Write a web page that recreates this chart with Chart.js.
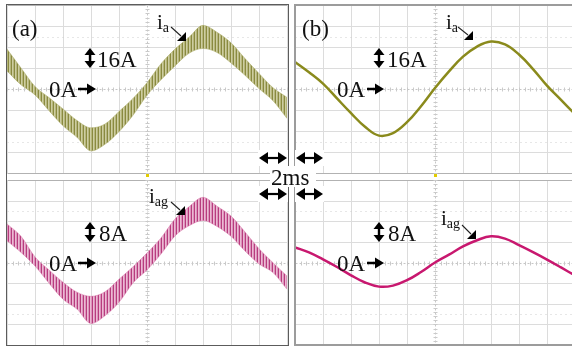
<!DOCTYPE html>
<html>
<head>
<meta charset="utf-8">
<script src="https://cdn.jsdelivr.net/npm/chart.js@4.4.1/dist/chart.umd.min.js"></script>
<style>
  html, body { margin: 0; padding: 0; background: #fff; }
  #scope { position: relative; width: 572px; height: 348px; overflow: hidden; background: #fff; }
  #scope canvas { position: absolute; }
  .frame { position: absolute; box-sizing: border-box; pointer-events: none; }
  #marks { position: absolute; left: 0; top: 0; }
  #marks text { font-family: "Liberation Serif", "Times New Roman", serif; fill: #111; }
</style>
</head>
<body>
<div id="scope">
  <canvas id="aTop" width="284" height="172" style="left:5px;top:3px"></canvas>
  <canvas id="aBot" width="284" height="169" style="left:5px;top:178px"></canvas>
  <canvas id="bTop" width="284" height="172" style="left:293px;top:3px"></canvas>
  <canvas id="bBot" width="284" height="169" style="left:293px;top:178px"></canvas>
  <div class="frame" style="left:6px;top:4px;width:283px;height:342px;border:1.5px solid #5c5c5c;"></div>
  <div class="frame" style="left:294px;top:4px;width:300px;height:342px;border:2px solid #9c9c9c;"></div>
  <svg id="marks" width="572" height="348" xmlns="http://www.w3.org/2000/svg">
    <g id="arrows"></g>
    <!-- panel (a) -->
    <text x="12" y="36" font-size="23">(a)</text>
    <text x="157" y="29" font-size="21">i<tspan font-size="14" dy="3">a</tspan></text>
    <text x="97" y="67" font-size="23">16A</text>
    <text x="49" y="97" font-size="23">0A</text>
    <text x="149" y="203" font-size="21">i<tspan font-size="14" dy="3">ag</tspan></text>
    <text x="99" y="241" font-size="23">8A</text>
    <text x="49" y="271" font-size="23">0A</text>
    <!-- panel (b) -->
    <text x="302" y="36" font-size="23">(b)</text>
    <text x="446" y="29" font-size="21">i<tspan font-size="14" dy="3">a</tspan></text>
    <text x="387" y="67" font-size="23">16A</text>
    <text x="337" y="97" font-size="23">0A</text>
    <text x="441" y="225" font-size="21">i<tspan font-size="14" dy="3">ag</tspan></text>
    <text x="388" y="241" font-size="23">8A</text>
    <text x="337" y="271" font-size="23">0A</text>
    <!-- time base -->
    <rect x="270" y="166" width="46" height="21" fill="#fff"></rect>
    <text x="271" y="185" font-size="23">2ms</text>
  </svg>
</div>
<script>
// Graticule divisions
const xDivisions = [0, 1, 2, 3, 4, 5, 6, 7, 8, 9, 10];
const yDivisions = [-4, -3, -2, -1, 0, 1, 2, 3, 4];
// Sample positions along the time axis (divisions, 2 ms/div)
const samplePos = [0, 0.5, 1, 1.5, 2, 2.5, 3, 3.5, 4, 4.5, 5, 5.5, 6, 6.5, 7, 7.5, 8, 8.5, 9, 9.5, 10];

// (a) phase current i_a, 16 A/div: mean trace and switching-ripple half band
const aIa       = [1.38, 0.6, -0.08, -0.72, -1.35, -1.9, -2.4, -2.15, -1.55, -0.85, 0.0, 0.82, 1.5, 2.08, 2.48, 2.22, 1.72, 1.05, 0.38, -0.25, -0.9];
const aIaRipple = [0.52, 0.4, 0.2, 0.31, 0.4, 0.4, 0.55, 0.48, 0.48, 0.4, 0.3, 0.38, 0.4, 0.38, 0.55, 0.48, 0.48, 0.4, 0.36, 0.31, 0.5];
// (a) current i_ag, 8 A/div
const aIag       = [1.46, 0.88, 0.05, -0.68, -1.37, -1.85, -2.3, -2.0, -1.37, -0.6, 0.05, 0.8, 1.7, 2.24, 2.6, 2.24, 1.76, 1.02, 0.3, -0.25, -0.98];
const aIagRipple = [0.41, 0.39, 0.22, 0.32, 0.41, 0.41, 0.66, 0.58, 0.56, 0.39, 0.41, 0.39, 0.41, 0.46, 0.56, 0.49, 0.49, 0.46, 0.37, 0.24, 0.32];
// (b) filtered currents
const bIa  = [1.29, 0.8, 0.26, -0.45, -1.15, -1.8, -2.22, -2.1, -1.58, -0.82, 0.05, 0.84, 1.54, 2.02, 2.26, 2.12, 1.64, 0.95, 0.16, -0.52, -1.2];
const bIag = [0.73, 0.49, 0.15, -0.22, -0.62, -0.97, -1.17, -1.12, -0.86, -0.46, 0.0, 0.38, 0.78, 1.08, 1.27, 1.16, 0.84, 0.5, 0.14, -0.24, -0.63];

const OLIVE = { dark: '#8a8a40', mid: '#b6b67c', light: '#cdcda2', trace: '#8a8a1c', core: '#6e6e20', edge: 'rgba(170,170,100,0.5)' };
const MAGENTA = { dark: '#b83c7e', mid: '#db94bb', light: '#ecbad4', trace: '#c8186f', core: '#a81460', edge: 'rgba(215,110,165,0.45)' };

const pts = arr => samplePos.map((x, i) => ({ x, y: arr[i] }));

function stripes(col) {
  const c = document.createElement('canvas');
  c.width = 3; c.height = 1;
  const g = c.getContext('2d');
  g.fillStyle = col.light; g.fillRect(0, 0, 3, 1);
  g.fillStyle = col.mid; g.fillRect(2, 0, 1, 1);
  g.fillStyle = col.dark; g.fillRect(0, 0, 1, 1);
  return g.createPattern(c, 'repeat');
}

// Oscilloscope graticule drawn from the chart scales
const scopeGrid = {
  id: 'scopeGrid',
  beforeDatasetsDraw(chart) {
    const { ctx, scales: { x, y } } = chart;
    const px = v => Math.round(x.getPixelForValue(v)) + 0.5;
    const py = v => Math.round(y.getPixelForValue(v)) + 0.5;
    const left = px(xDivisions[0]), right = px(xDivisions[xDivisions.length - 1]);
    const top = py(yDivisions[yDivisions.length - 1]), bottom = py(yDivisions[0]);
    ctx.save();
    ctx.lineWidth = 1;
    ctx.strokeStyle = '#dcdcdc';
    ctx.beginPath();
    xDivisions.forEach(v => { if (v === 5) return; ctx.moveTo(px(v), top); ctx.lineTo(px(v), bottom); });
    yDivisions.forEach(v => { if (v === 0 || Math.abs(v) === 4) return; ctx.moveTo(left, py(v)); ctx.lineTo(right, py(v)); });
    ctx.stroke();
    ctx.strokeStyle = '#b2b2b2';
    ctx.beginPath();
    [-4, 4].forEach(v => { ctx.moveTo(left, py(v)); ctx.lineTo(right, py(v)); });
    ctx.stroke();
    // centre lines
    ctx.strokeStyle = '#c6c6c6';
    ctx.setLineDash([2, 2]);
    ctx.beginPath();
    ctx.moveTo(px(5), top); ctx.lineTo(px(5), bottom);
    ctx.moveTo(left, py(0)); ctx.lineTo(right, py(0));
    ctx.stroke();
    // half-scale dotted lines
    ctx.setLineDash([1, 4]);
    ctx.strokeStyle = '#cfcfcf';
    ctx.beginPath();
    [-2.5, 2.5].forEach(v => { ctx.moveTo(left, py(v)); ctx.lineTo(right, py(v)); });
    ctx.stroke();
    ctx.setLineDash([]);
    // minor ticks on centre lines
    ctx.strokeStyle = '#cacaca';
    ctx.beginPath();
    for (let k = 0; k <= 50; k++) {
      const v = k / 5;
      ctx.moveTo(px(v), py(0) - 2); ctx.lineTo(px(v), py(0) + 2);
    }
    for (let k = -20; k <= 20; k++) {
      const v = k / 5;
      ctx.moveTo(px(5) - 2, py(v)); ctx.lineTo(px(5) + 2, py(v));
    }
    ctx.stroke();
    ctx.restore();
  }
};

function baseOptions(lineStyle) {
  return {
    responsive: false,
    devicePixelRatio: 1,
    animation: false,
    events: [],
    layout: { padding: 2 },
    plugins: { legend: { display: false }, tooltip: { enabled: false } },
    elements: { point: { radius: 0 }, line: lineStyle },
    scales: {
      x: { type: 'linear', min: 0, max: 10, display: false },
      y: { type: 'linear', min: -4, max: 4, display: false }
    }
  };
}

function rippleChart(id, mean, ripple, col) {
  const upper = mean.map((v, i) => v + ripple[i]);
  const lower = mean.map((v, i) => v - ripple[i]);
  return new Chart(document.getElementById(id), {
    type: 'line',
    data: {
      datasets: [
        { data: pts(upper), borderColor: col.edge, borderWidth: 1, fill: false },
        { data: pts(lower), borderColor: col.edge, borderWidth: 1, fill: '-1', backgroundColor: stripes(col) },
        { data: pts(mean), borderColor: col.core, borderWidth: 1.4, fill: false }
      ]
    },
    options: baseOptions({ cubicInterpolationMode: 'monotone' }),
    plugins: [scopeGrid]
  });
}

function traceChart(id, series, col) {
  return new Chart(document.getElementById(id), {
    type: 'line',
    data: { datasets: [{ data: pts(series), borderColor: col.trace, borderWidth: 2.5, fill: false }] },
    options: baseOptions({ tension: 0.4 }),
    plugins: [scopeGrid]
  });
}

rippleChart('aTop', aIa, aIaRipple, OLIVE);
rippleChart('aBot', aIag, aIagRipple, MAGENTA);
traceChart('bTop', bIa, OLIVE);
traceChart('bBot', bIag, MAGENTA);

// Annotation arrows
const NS = 'http://www.w3.org/2000/svg';
const g = document.getElementById('arrows');
function el(tag, attrs) {
  const e = document.createElementNS(NS, tag);
  for (const k in attrs) e.setAttribute(k, attrs[k]);
  g.appendChild(e);
}
function poly(p) { el('polygon', { points: p.map(q => q.join(',')).join(' '), fill: '#000' }); }
function rightArrow(x0, x1, y) {
  el('line', { x1: x0, y1: y, x2: x1 - 7, y2: y, stroke: '#000', 'stroke-width': 2.5 });
  poly([[x1 - 9, y - 5.5], [x1 - 9, y + 5.5], [x1, y]]);
}
function upDown(cx, y0, y1) {
  poly([[cx - 5.5, y0 + 7], [cx + 5.5, y0 + 7], [cx, y0]]);
  poly([[cx - 5.5, y1 - 7], [cx + 5.5, y1 - 7], [cx, y1]]);
  el('rect', { x: cx - 1.2, y: y0 + 6, width: 2.4, height: y1 - y0 - 12, fill: '#000' });
}
function pointer(x0, y0, tx, ty) {
  el('line', { x1: x0, y1: y0, x2: tx - 5, y2: ty - 5, stroke: '#222', 'stroke-width': 1.1 });
  poly([[tx, ty], [tx, ty - 9], [tx - 9, ty]]);
}
function biArrow(x0, x1, y) {
  el('rect', { x: x0 - 1, y: y - 8, width: x1 - x0 + 2, height: 16, fill: '#fff' });
  el('line', { x1: x0 + 6, y1: y, x2: x1 - 6, y2: y, stroke: '#000', 'stroke-width': 2.2 });
  poly([[x0, y], [x0 + 9, y - 6], [x0 + 9, y + 6]]);
  poly([[x1, y], [x1 - 9, y - 6], [x1 - 9, y + 6]]);
}

// panel (a)
upDown(90, 48, 68); rightArrow(78, 96, 89); pointer(171, 27, 186, 41);
upDown(90, 222, 242); rightArrow(78, 96, 263); pointer(171, 202, 185, 215);
// panel (b)
upDown(379, 48, 68); rightArrow(367, 384, 89); pointer(458, 27, 473, 40);
upDown(379, 222, 242); rightArrow(367, 384, 263); pointer(462, 225, 476, 239);
// time base arrows
biArrow(259, 287, 158); biArrow(296, 323, 158);
biArrow(259, 287, 194); biArrow(296, 323, 194);
// trigger markers
el('rect', { x: 146, y: 174, width: 3, height: 3, fill: '#e2cc00' });
el('rect', { x: 434, y: 174, width: 3, height: 3, fill: '#e2cc00' });
</script>
</body>
</html>
